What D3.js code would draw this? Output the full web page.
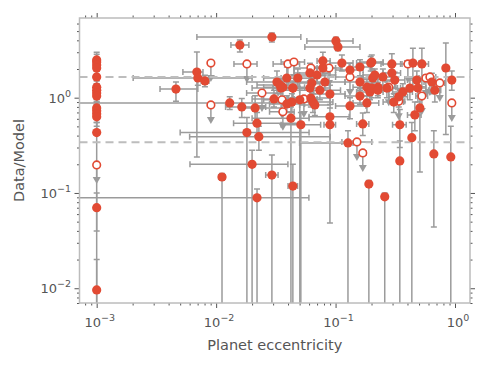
<!DOCTYPE html>
<html lang="en">
<head>
  <meta http-equiv="Content-Type" content="text/html; charset=utf-8">
  <title></title>
  <style type="text/css">
    body { margin: 0; background: #fff; }
    text { font-family: "DejaVu Sans", sans-serif; fill: #555; }
    .err { stroke: #9b9b9b; stroke-width: 1.5; fill: none; }
    .axis path { display: none; }
    .axis line { stroke: #555; }
  </style>
</head>
<body>
<script src="https://cdn.jsdelivr.net/npm/d3@7"></script>
<script>
  //----------------------------------------------------------------------------
  // planets with e = 0, plotted at e = 0.001: [ratio, ratioLo, ratioHi]
  var zeroEcc = [
    [2.49, 2.2, 3.0], [2.37, 2.0, 2.85], [2.20, 1.9, 2.6], [2.05, 1.7, 2.4],
    [1.65, 1.4, 1.9], [1.29, 1.1, 1.5], [1.20, 1.0, 1.4], [1.12, 0.9, 1.3],
    [1.04, 0.85, 1.25], [0.78, 0.6, 0.95], [0.73, 0.55, 0.9], [0.68, 0.5, 0.85],
    [0.63, 0.45, 0.8], [0.43, 0.0001, 0.55], [0.070, 0.04, 0.1], [0.0096, 0.0001, 0.02]
  ];

  // detections: [ecc, eccLo, eccHi, ratio, ratioLo, ratioHi]
  var detections = [
    [0.00461, 0.00339, 0.00703, 1.23, 0.92, 1.46],
    [0.0069, 0.00527, 0.00776, 1.86, 0.239, 3.02],
    [0.00703, 0.00202, 0.020, 1.61, 1.35, 1.90],
    [0.00806, 0.0075, 0.0087, 1.50, 1.30, 1.72],
    [0.0158, 0.0133, 0.0188, 3.57, 3.02, 4.04],
    [0.0293, 0.0069, 0.0512, 4.33, 3.84, 4.77],
    [0.0130, 0.0005, 0.045, 0.88, 0.75, 1.02],
    [0.0164, 0.012, 0.026, 0.80, 0.62, 0.98],
    [0.0212, 0.016, 0.035, 0.78, 0.55, 1.05],
    [0.0181, 0.005, 0.060, 0.43, 0.0001, 0.62],
    [0.0220, 0.014, 0.05, 0.54, 0.40, 0.70],
    [0.0228, 0.006, 0.09, 0.39, 0.28, 0.50],
    [0.0200, 0.00604, 0.0399, 0.20, 0.0001, 0.28],
    [0.0112, 0.0105, 0.0119, 0.147, 0.0001, 0.16],
    [0.0293, 0.026, 0.033, 0.154, 0.0001, 0.25],
    [0.0439, 0.040, 0.048, 0.118, 0.0001, 0.20],
    [0.0220, 0.0005, 0.0598, 0.089, 0.0001, 0.11],
    [0.0323, 0.018, 0.06, 1.46, 1.1, 1.9],
    [0.0391, 0.025, 0.07, 1.61, 1.2, 2.1],
    [0.0349, 0.02, 0.05, 1.26, 0.9, 1.6],
    [0.0305, 0.02, 0.045, 0.97, 0.8, 1.2],
    [0.0362, 0.025, 0.055, 1.29, 1.0, 1.6],
    [0.0439, 0.03, 0.065, 1.26, 1.0, 1.5],
    [0.0483, 0.035, 0.07, 1.61, 1.3, 2.0],
    [0.0610, 0.045, 0.09, 1.82, 1.5, 2.3],
    [0.0698, 0.05, 0.1, 1.73, 1.4, 2.1],
    [0.0783, 0.06, 0.1, 2.05, 1.7, 2.5],
    [0.0633, 0.04, 0.09, 1.43, 1.15, 1.75],
    [0.0814, 0.06, 0.12, 1.46, 1.2, 1.8],
    [0.0783, 0.07, 0.09, 2.43, 2.0, 3.0],
    [0.1007, 0.0575, 0.140, 3.94, 3.6, 4.3],
    [0.1047, 0.0553, 0.160, 3.40, 3.1, 3.7],
    [0.113, 0.09, 0.14, 2.31, 1.9, 2.8],
    [0.197, 0.15, 0.25, 2.31, 1.9, 2.7],
    [0.160, 0.13, 0.20, 2.10, 1.7, 2.5],
    [0.132, 0.1, 0.17, 1.95, 1.6, 2.3],
    [0.160, 0.12, 0.21, 1.46, 1.2, 1.7],
    [0.183, 0.14, 0.24, 1.29, 1.05, 1.55],
    [0.205, 0.16, 0.26, 1.61, 1.3, 1.9],
    [0.226, 0.18, 0.28, 1.29, 1.05, 1.55],
    [0.194, 0.15, 0.25, 1.15, 0.95, 1.4],
    [0.0610, 0.035, 0.09, 1.26, 1.0, 1.5],
    [0.0739, 0.05, 0.11, 1.20, 0.95, 1.45],
    [0.0897, 0.065, 0.12, 1.09, 0.85, 1.35],
    [0.0621, 0.04, 0.09, 0.99, 0.8, 1.2],
    [0.0646, 0.045, 0.095, 0.90, 0.7, 1.1],
    [0.0671, 0.05, 0.09, 0.84, 0.65, 1.0],
    [0.160, 0.12, 0.2, 1.04, 0.85, 1.25],
    [0.132, 0.1, 0.18, 0.82, 0.6, 1.0],
    [0.0431, 0.03, 0.06, 0.90, 0.7, 1.1],
    [0.0502, 0.035, 0.07, 0.95, 0.0001, 1.2],
    [0.183, 0.14, 0.23, 0.88, 0.7, 1.05],
    [0.0342, 0.022, 0.05, 1.36, 1.1, 1.6],
    [0.0391, 0.028, 0.055, 0.86, 0.7, 1.05],
    [0.0423, 0.02, 0.06, 0.61, 0.0001, 0.8],
    [0.0512, 0.035, 0.075, 0.52, 0.0001, 0.7],
    [0.0897, 0.06, 0.13, 0.63, 0.5, 0.78],
    [0.0897, 0.08, 0.1, 0.52, 0.0485, 0.65],
    [0.169, 0.15, 0.19, 0.53, 0.40, 0.69],
    [0.127, 0.05, 0.14, 0.335, 0.0001, 0.45],
    [0.190, 0.182, 0.198, 0.124, 0.0001, 0.135],
    [0.258, 0.245, 0.272, 0.091, 0.0001, 0.1],
    [0.201, 0.16, 0.25, 2.37, 2.0, 2.8],
    [0.296, 0.24, 0.36, 2.26, 1.8, 2.9],
    [0.444, 0.38, 0.5, 2.31, 1.3, 3.3],
    [0.528, 0.46, 0.6, 2.26, 1.3, 3.3],
    [0.838, 0.8, 0.88, 2.05, 0.41, 3.74],
    [0.940, 0.9, 0.98, 1.53, 1.2, 1.9],
    [0.213, 0.17, 0.26, 1.73, 1.45, 2.0],
    [0.249, 0.2, 0.31, 1.65, 1.35, 2.0],
    [0.296, 0.25, 0.35, 1.82, 1.5, 2.2],
    [0.313, 0.26, 0.38, 1.53, 1.25, 1.85],
    [0.201, 0.16, 0.25, 1.26, 1.0, 1.5],
    [0.226, 0.18, 0.28, 1.20, 1.0, 1.45],
    [0.269, 0.22, 0.33, 1.26, 1.0, 1.5],
    [0.479, 0.4, 0.56, 1.53, 1.2, 1.9],
    [0.640, 0.55, 0.73, 1.46, 1.1, 1.8],
    [0.419, 0.35, 0.5, 1.26, 0.95, 1.6],
    [0.489, 0.42, 0.57, 1.26, 0.9, 1.6],
    [0.678, 0.6, 0.76, 1.20, 0.9, 1.5],
    [0.366, 0.3, 0.44, 1.15, 0.9, 1.4],
    [0.338, 0.28, 0.4, 1.02, 0.8, 1.25],
    [0.307, 0.25, 0.37, 0.90, 0.7, 1.1],
    [0.508, 0.49, 0.53, 0.78, 0.166, 1.0],
    [0.461, 0.4, 0.52, 0.66, 0.45, 0.9],
    [0.345, 0.3, 0.39, 0.52, 0.3, 0.75],
    [0.435, 0.42, 0.45, 0.38, 0.0001, 0.55],
    [0.345, 0.33, 0.36, 0.217, 0.0001, 0.35],
    [0.665, 0.65, 0.68, 0.257, 0.044, 0.45],
    [0.922, 0.9, 0.94, 0.239, 0.0001, 0.5]
  ];

  // upper limits: [ecc, eccLo, eccHi, ratio]
  var upperLimits = [
    [0.001, null, null, 0.197], [0.00904, null, null, 2.31],
    [0.0181, 0.0141, 0.0220, 2.26], [0.00904, null, null, 0.84],
    [0.0242, 0.018, 0.033, 1.12], [0.0362, 0.028, 0.045, 0.71],
    [0.0399, 0.03, 0.05, 2.26], [0.0448, 0.035, 0.055, 2.37],
    [0.0621, 0.045, 0.08, 2.05], [0.0881, 0.07, 0.11, 2.05],
    [0.0356, 0.025, 0.05, 0.95], [0.0439, 0.03, 0.06, 1.26],
    [0.0543, 0.04, 0.07, 0.97], [0.132, 0.1, 0.17, 1.65],
    [0.151, 0.113, 0.201, 0.343], [0.169, 0.16, 0.18, 0.263],
    [0.403, 0.35, 0.46, 2.26], [0.570, 0.5, 0.64, 1.61],
    [0.616, 0.55, 0.69, 1.65], [0.746, 0.68, 0.82, 1.43],
    [0.528, 0.47, 0.59, 1.04], [0.940, null, null, 0.88],
    [0.279, 0.24, 0.32, 1.29], [0.338, 0.3, 0.38, 0.92]
  ];

  var refLines = [1.65, 0.34];
  var xMajor = [-3, -2, -1, 0];
  var yMajor = [-2, -1, 0];

  var width = 488, height = 366;
  var pLeft = 79.5, pRight = 470, pTop = 18, pBottom = 303;
  var red = "#e24a33";

  var x = d3.scaleLog().domain([7.18e-4, 1.335]).range([pLeft, pRight]);
  var y = d3.scaleLog().domain([7.0e-3, 6.86]).range([pBottom, pTop]);

  function minors(scale) {
    var d = scale.domain(), out = [];
    for (var e = -4; e <= 1; e++)
      for (var m = 2; m <= 9; m++) {
        var v = m * Math.pow(10, e);
        if (v >= d[0] && v <= d[1]) out.push(v);
      }
    return out;
  }

  var svg = d3.select("body").append("svg")
    .attr("width", width).attr("height", height);

  svg.append("clipPath").attr("id", "plot")
    .append("rect").attr("x", pLeft).attr("y", pTop)
    .attr("width", pRight - pLeft).attr("height", pBottom - pTop);

  var plot = svg.append("g").attr("clip-path", "url(#plot)");

  // all points in one list for the error bars
  var pts = zeroEcc.map(function(d) { return [0.001, null, null, d[0], d[1], d[2]]; })
    .concat(detections);

  var cap = 3;
  pts.forEach(function(d) {
    var cx = x(d[0]), cy = y(d[3]);
    if (d[1] != null) {
      plot.append("line").attr("class", "err")
        .attr("x1", x(d[1])).attr("x2", x(d[2])).attr("y1", cy).attr("y2", cy);
      [d[1], d[2]].forEach(function(v) {
        plot.append("line").attr("class", "err")
          .attr("x1", x(v)).attr("x2", x(v)).attr("y1", cy - cap).attr("y2", cy + cap);
      });
    }
    plot.append("line").attr("class", "err")
      .attr("x1", cx).attr("x2", cx).attr("y1", y(d[4])).attr("y2", y(d[5]));
    [d[4], d[5]].forEach(function(v) {
      plot.append("line").attr("class", "err")
        .attr("x1", cx - cap).attr("x2", cx + cap).attr("y1", y(v)).attr("y2", y(v));
    });
  });

  // upper limits: x errors and downward arrows
  upperLimits.forEach(function(d) {
    var cx = x(d[0]), cy = y(d[3]);
    if (d[1] != null) {
      plot.append("line").attr("class", "err")
        .attr("x1", x(d[1])).attr("x2", x(d[2])).attr("y1", cy).attr("y2", cy);
      [d[1], d[2]].forEach(function(v) {
        plot.append("line").attr("class", "err")
          .attr("x1", x(v)).attr("x2", x(v)).attr("y1", cy - cap).attr("y2", cy + cap);
      });
    }
    plot.append("line").attr("class", "err")
      .attr("x1", cx).attr("x2", cx).attr("y1", cy).attr("y2", cy + 14);
    plot.append("path")
      .attr("d", "M" + (cx - 4) + "," + (cy + 12) + "L" + (cx + 4) + "," + (cy + 12) +
        "L" + cx + "," + (cy + 19) + "Z")
      .attr("fill", "#9b9b9b");
  });

  plot.selectAll(".ref").data(refLines).enter().append("line")
    .attr("x1", pLeft).attr("x2", pRight)
    .attr("y1", function(d) { return y(d); }).attr("y2", function(d) { return y(d); })
    .attr("stroke", "#bdbdbd").attr("stroke-width", 2).attr("stroke-dasharray", "8,5");

  plot.selectAll(".open").data(upperLimits).enter().append("circle")
    .attr("cx", function(d) { return x(d[0]); })
    .attr("cy", function(d) { return y(d[3]); })
    .attr("r", 3.8).attr("fill", "#fff").attr("stroke", red).attr("stroke-width", 1.6);

  plot.selectAll(".dot").data(pts).enter().append("circle")
    .attr("cx", function(d) { return x(d[0]); })
    .attr("cy", function(d) { return y(d[3]); })
    .attr("r", 4.6).attr("fill", red);

  // axes: ticks on all four sides, labels bottom and left
  function drawAxis(axisFn, scale, tr, size, vals) {
    svg.append("g").attr("class", "axis").attr("transform", tr)
      .call(axisFn(scale).tickValues(vals).tickSize(size).tickFormat(""));
  }
  var xM = xMajor.map(function(e) { return Math.pow(10, e); });
  var yM = yMajor.map(function(e) { return Math.pow(10, e); });
  drawAxis(d3.axisBottom, x, "translate(0," + pBottom + ")", 5, xM);
  drawAxis(d3.axisBottom, x, "translate(0," + pBottom + ")", 2.5, minors(x));
  drawAxis(d3.axisTop, x, "translate(0," + pTop + ")", 5, xM);
  drawAxis(d3.axisTop, x, "translate(0," + pTop + ")", 2.5, minors(x));
  drawAxis(d3.axisLeft, y, "translate(" + pLeft + ",0)", 5, yM);
  drawAxis(d3.axisLeft, y, "translate(" + pLeft + ",0)", 2.5, minors(y));
  drawAxis(d3.axisRight, y, "translate(" + pRight + ",0)", 5, yM);
  drawAxis(d3.axisRight, y, "translate(" + pRight + ",0)", 2.5, minors(y));

  svg.append("rect").attr("x", pLeft).attr("y", pTop)
    .attr("width", pRight - pLeft).attr("height", pBottom - pTop)
    .attr("fill", "none").attr("stroke", "#bcbcbc").attr("stroke-width", 1.5);

  function powLabel(sel, e) {
    sel.append("tspan").text("10");
    sel.append("tspan").attr("dy", -6).attr("font-size", 9.5)
      .text(e < 0 ? "\u2212" + (-e) : String(e));
  }
  xMajor.forEach(function(e) {
    var t = svg.append("text").attr("x", x(Math.pow(10, e)) + 3).attr("y", 327)
      .attr("text-anchor", "middle").attr("font-size", 13);
    powLabel(t, e);
  });
  yMajor.forEach(function(e) {
    var t = svg.append("text").attr("x", 71).attr("y", y(Math.pow(10, e)) + 5)
      .attr("text-anchor", "end").attr("font-size", 13);
    powLabel(t, e);
  });

  svg.append("text").attr("x", (pLeft + pRight) / 2).attr("y", 350)
    .attr("text-anchor", "middle").attr("font-size", 14.5).text("Planet eccentricity");
  svg.append("text").attr("transform", "translate(24," + ((pTop + pBottom) / 2) + ") rotate(-90)")
    .attr("text-anchor", "middle").attr("font-size", 14.5).text("Data/Model");
  //----------------------------------------------------------------------------
</script>
</body>
</html>
